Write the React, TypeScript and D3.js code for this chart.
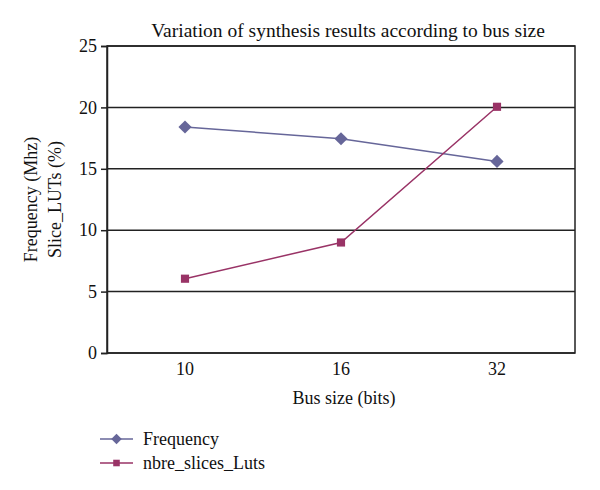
import { useRef, useEffect } from "react";
import * as d3 from "d3";

const busSizes = ["10", "16", "32"];
const frequency = [18.4, 17.45, 15.6];
const slicesLuts = [6.05, 9.0, 20.05];
const yTicks = [0, 5, 10, 15, 20, 25];

const series = [
  { name: "Frequency", values: frequency, color: "#666699", marker: "diamond" },
  { name: "nbre_slices_Luts", values: slicesLuts, color: "#993366", marker: "square" },
];

const FONT = "'Liberation Serif', 'DejaVu Serif', serif";

export default function App() {
  const ref = useRef<SVGSVGElement>(null);

  useEffect(() => {
    if (!ref.current) return;
    const svg = d3.select(ref.current);
    svg.selectAll("*").remove();

    const margin = { top: 46, right: 25, bottom: 137, left: 107 };
    const W = 600;
    const H = 490;
    const width = W - margin.left - margin.right;
    const height = H - margin.top - margin.bottom;

    const g = svg.append("g").attr("transform", `translate(${margin.left},${margin.top})`);

    const x = d3.scaleBand().domain(busSizes).range([0, width]);
    const y = d3.scaleLinear().domain([0, 25]).range([height, 0]);

    // gridlines
    g.append("g")
      .selectAll("line")
      .data(yTicks)
      .join("line")
      .attr("x1", 0)
      .attr("x2", width)
      .attr("y1", (d) => y(d))
      .attr("y2", (d) => y(d))
      .attr("stroke", "#222")
      .attr("stroke-width", 1.5);

    // frame
    g.append("rect")
      .attr("width", width)
      .attr("height", height)
      .attr("fill", "none")
      .attr("stroke", "#222")
      .attr("stroke-width", 1.5);

    // y axis
    const yAxis = g
      .append("g")
      .call(d3.axisLeft(y).tickValues(yTicks).tickSize(6).tickPadding(4));
    yAxis.select(".domain").attr("stroke", "#222").attr("stroke-width", 1.5);
    yAxis.selectAll(".tick line").attr("stroke", "#222").attr("stroke-width", 1.5);
    yAxis
      .selectAll(".tick text")
      .attr("font-family", FONT)
      .attr("font-size", 18)
      .attr("fill", "#111");

    // x axis
    const xAxis = g
      .append("g")
      .attr("transform", `translate(0,${height})`)
      .call(d3.axisBottom(x).tickSize(0).tickPadding(9));
    xAxis.select(".domain").remove();
    xAxis
      .selectAll(".tick text")
      .attr("font-family", FONT)
      .attr("font-size", 18)
      .attr("fill", "#111");

    const cx = (i: number) => (x(busSizes[i]) ?? 0) + x.bandwidth() / 2;

    const line = d3
      .line<number>()
      .x((_, i) => cx(i))
      .y((d) => y(d));

    series.forEach((s) => {
      g.append("path")
        .datum(s.values)
        .attr("fill", "none")
        .attr("stroke", s.color)
        .attr("stroke-width", 1.5)
        .attr("d", line);

      const sym = d3
        .symbol()
        .type(s.marker === "diamond" ? d3.symbolDiamond2 : d3.symbolSquare2)
        .size(s.marker === "diamond" ? 110 : 85);

      g.append("g")
        .selectAll("path")
        .data(s.values)
        .join("path")
        .attr("transform", (d, i) => `translate(${cx(i)},${y(d)})`)
        .attr("d", sym()!)
        .attr("fill", s.color);
    });

    // title
    svg
      .append("text")
      .attr("x", margin.left + width / 2 + 7)
      .attr("y", 37)
      .attr("text-anchor", "middle")
      .attr("font-family", FONT)
      .attr("font-size", 19.5)
      .attr("fill", "#111")
      .text("Variation of synthesis results according to bus size");

    // x title
    svg
      .append("text")
      .attr("x", margin.left + width / 2 + 3)
      .attr("y", 404)
      .attr("text-anchor", "middle")
      .attr("font-family", FONT)
      .attr("font-size", 18)
      .attr("fill", "#111")
      .text("Bus size (bits)");

    // y title (two lines)
    const cy = margin.top + height / 2;
    ["Frequency (Mhz)", "Slice_LUTs (%)"].forEach((t, i) => {
      svg
        .append("text")
        .attr("transform", `translate(${37 + i * 24},${cy}) rotate(-90)`)
        .attr("text-anchor", "middle")
        .attr("font-family", FONT)
        .attr("font-size", 18)
        .attr("fill", "#111")
        .text(t);
    });

    // legend
    const legend = svg.append("g").attr("transform", "translate(100,439)");
    series.forEach((s, i) => {
      const row = legend.append("g").attr("transform", `translate(0,${i * 24})`);
      row.append("line")
        .attr("x1", 0)
        .attr("x2", 33)
        .attr("stroke", s.color)
        .attr("stroke-width", 1.5);
      const sym = d3
        .symbol()
        .type(s.marker === "diamond" ? d3.symbolDiamond2 : d3.symbolSquare2)
        .size(s.marker === "diamond" ? 70 : 55);
      row.append("path").attr("transform", "translate(16.5,0)").attr("d", sym()!).attr("fill", s.color);
      row.append("text")
        .attr("x", 43)
        .attr("dy", "0.35em")
        .attr("font-family", FONT)
        .attr("font-size", 18)
        .attr("fill", "#111")
        .text(s.name);
    });
  }, []);

  return (
    <svg
      ref={ref}
      width={600}
      height={490}
      style={{ position: "absolute", left: 0, top: 0, background: "#fff" }}
    />
  );
}
